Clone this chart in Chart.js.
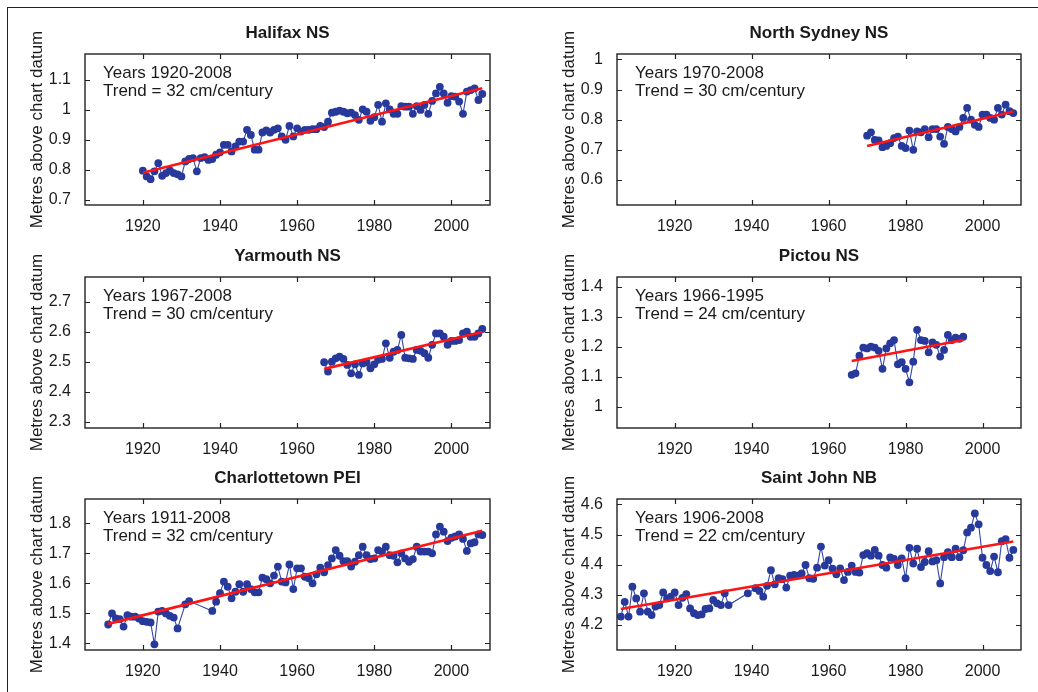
<!DOCTYPE html>
<html><head><meta charset="utf-8">
<script src="https://cdn.jsdelivr.net/npm/chart.js@4/dist/chart.umd.min.js"></script>
<style>
html,body{margin:0;padding:0;background:#fff;}
body{width:1038px;height:692px;position:relative;overflow:hidden;}
#frame{position:absolute;left:7px;top:7px;width:1100px;height:800px;border-left:1.5px solid #222;border-top:1.5px solid #222;}
canvas{position:absolute;}
</style></head><body><div id="frame"></div>
<script>
// ---------------- DATA ----------------
const xTickYears = [1920, 1940, 1960, 1980, 2000];

const halifaxYears = [1920,1921,1922,1923,1924,1925,1926,1927,1928,1929,1930,1931,1932,1933,1934,1935,1936,1937,1938,1939,1940,1941,1942,1943,1944,1945,1946,1947,1948,1949,1950,1951,1952,1953,1954,1955,1956,1957,1958,1959,1960,1961,1962,1963,1964,1965,1966,1967,1968,1969,1970,1971,1972,1973,1974,1975,1976,1977,1978,1979,1980,1981,1982,1983,1984,1985,1986,1987,1988,1989,1990,1991,1992,1993,1994,1995,1996,1997,1998,1999,2000,2001,2002,2003,2004,2005,2006,2007,2008];
const halifaxLevels = [0.797,0.778,0.769,0.795,0.822,0.780,0.789,0.798,0.789,0.785,
 0.778,0.828,0.836,0.839,0.795,0.839,0.842,0.833,0.836,0.850,
 0.858,0.883,0.883,0.861,0.878,0.894,0.894,0.933,0.916,0.867,
 0.867,0.924,0.931,0.924,0.933,0.938,0.911,0.900,0.946,0.911,
 0.938,0.927,0.933,0.933,0.935,0.935,0.946,0.942,0.960,0.990,
 0.993,0.997,0.993,0.988,0.990,0.982,0.966,1.001,0.993,0.963,
 0.975,1.016,0.960,1.021,1.001,0.986,0.986,1.012,1.010,1.010,
 0.986,1.012,0.999,1.016,0.986,1.029,1.054,1.076,1.054,1.023,
 1.045,1.043,1.027,0.986,1.060,1.065,1.071,1.032,1.052];
const halifaxTrendYears = [1920, 2008];
const halifaxTrend = [0.790, 1.071];
const halifaxYRange = [0.683, 1.185];
const halifaxYTicks = [0.7, 0.8, 0.9, 1.0, 1.1];

const sydneyYears = [1970,1971,1972,1973,1974,1975,1976,1977,1978,1979,1980,1981,1982,1983,1984,1985,1986,1987,1988,1989,1990,1991,1992,1993,1994,1995,1996,1997,1998,1999,2000,2001,2002,2003,2004,2005,2006,2007,2008];
const sydneyLevels = [0.747,0.758,0.733,0.731,0.709,0.713,0.722,0.739,0.744,0.713,
 0.706,0.764,0.700,0.761,0.758,0.769,0.742,0.769,0.769,0.744,
 0.720,0.776,0.769,0.761,0.776,0.806,0.839,0.800,0.783,0.776,
 0.817,0.817,0.806,0.800,0.839,0.817,0.850,0.828,0.822];
const sydneyTrendYears = [1970, 2008];
const sydneyTrend = [0.713, 0.827];
const sydneyYRange = [0.517, 1.018];
const sydneyYTicks = [0.6, 0.7, 0.8, 0.9, 1.0];

const yarmouthYears = [1967,1968,1969,1970,1971,1972,1973,1974,1975,1976,1977,1978,1979,1980,1981,1982,1983,1984,1985,1986,1987,1988,1989,1990,1991,1992,1993,1994,1995,1996,1997,1998,1999,2000,2001,2002,2003,2004,2005,2006,2007,2008];
const yarmouthLevels = [2.498,2.467,2.500,2.511,2.517,2.509,2.489,2.461,2.491,2.456,
 2.494,2.498,2.478,2.491,2.506,2.509,2.561,2.513,2.533,2.539,
 2.589,2.513,2.511,2.509,2.539,2.536,2.528,2.513,2.556,2.594,
 2.594,2.583,2.556,2.569,2.569,2.572,2.594,2.600,2.583,2.583,
 2.594,2.609];
const yarmouthTrendYears = [1967, 2008];
const yarmouthTrend = [2.476, 2.599];
const yarmouthYRange = [2.279, 2.782];
const yarmouthYTicks = [2.3, 2.4, 2.5, 2.6, 2.7];

const pictouYears = [1966,1967,1968,1969,1970,1971,1972,1973,1974,1975,1976,1977,1978,1979,1980,1981,1982,1983,1984,1985,1986,1987,1988,1989,1990,1991,1992,1993,1994,1995];
const pictouLevels = [1.106,1.111,1.170,1.197,1.194,1.200,1.197,1.186,1.126,1.194,
 1.211,1.222,1.141,1.148,1.126,1.081,1.150,1.256,1.222,1.219,
 1.181,1.214,1.206,1.167,1.189,1.239,1.222,1.230,1.226,1.233];
const pictouTrendYears = [1966, 1995];
const pictouTrend = [1.152, 1.222];
const pictouYRange = [0.929, 1.432];
const pictouYTicks = [1.0, 1.1, 1.2, 1.3, 1.4];

const charlottetownYears = [1911,1912,1913,1914,1915,1916,1917,1918,1919,1920,1921,1922,1923,1924,1925,1926,1927,1928,1929,1931,1932,1938,1939,1940,1941,1942,1943,1944,1945,1946,1947,1948,1949,1950,1951,1952,1953,1954,1955,1956,1957,1958,1959,1960,1961,1962,1963,1964,1965,1966,1967,1968,1969,1970,1971,1972,1973,1974,1975,1976,1977,1978,1979,1980,1981,1982,1983,1984,1985,1986,1987,1988,1989,1990,1991,1992,1993,1994,1995,1996,1997,1998,1999,2000,2001,2002,2003,2004,2005,2006,2007,2008];
const charlottetownLevels = [1.463,1.500,1.483,1.481,1.456,1.494,1.489,1.489,1.483,1.474,
 1.472,1.470,1.397,1.506,1.508,1.500,1.492,1.486,1.450,1.530,
 1.541,1.508,1.539,1.567,1.606,1.589,1.550,1.572,1.597,1.572,
 1.597,1.581,1.570,1.570,1.619,1.614,1.600,1.626,1.656,1.606,
 1.603,1.663,1.581,1.650,1.650,1.622,1.617,1.600,1.630,1.652,
 1.637,1.661,1.683,1.711,1.692,1.674,1.674,1.656,1.672,1.694,
 1.722,1.694,1.681,1.683,1.711,1.706,1.722,1.694,1.692,1.670,
 1.700,1.683,1.672,1.681,1.722,1.706,1.706,1.706,1.700,1.763,
 1.789,1.772,1.741,1.752,1.756,1.763,1.748,1.708,1.733,1.737,
 1.763,1.761];
const charlottetownTrendYears = [1911, 2008];
const charlottetownTrend = [1.465, 1.775];
const charlottetownYRange = [1.378, 1.881];
const charlottetownYTicks = [1.4, 1.5, 1.6, 1.7, 1.8];

const saintJohnYears = [1906,1907,1908,1909,1910,1911,1912,1913,1914,1915,1916,1917,1918,1919,1920,1921,1922,1923,1924,1925,1926,1927,1928,1929,1930,1931,1932,1933,1934,1939,1941,1942,1943,1944,1945,1946,1947,1948,1949,1950,1951,1952,1953,1954,1955,1956,1957,1958,1959,1960,1961,1962,1963,1964,1965,1966,1967,1968,1969,1970,1971,1972,1973,1974,1975,1976,1977,1978,1979,1980,1981,1982,1983,1984,1985,1986,1987,1988,1989,1990,1991,1992,1993,1994,1995,1996,1997,1998,1999,2000,2001,2002,2003,2004,2005,2006,2007,2008];
const saintJohnLevels = [4.228,4.277,4.228,4.327,4.288,4.244,4.305,4.244,4.233,4.261,
 4.266,4.308,4.288,4.294,4.308,4.266,4.290,4.302,4.255,4.239,
 4.233,4.235,4.253,4.255,4.283,4.272,4.266,4.305,4.266,4.305,
 4.322,4.313,4.294,4.330,4.382,4.335,4.355,4.352,4.324,4.364,
 4.366,4.364,4.371,4.399,4.355,4.353,4.390,4.460,4.397,4.415,
 4.387,4.368,4.388,4.349,4.376,4.397,4.376,4.374,4.432,4.438,
 4.430,4.449,4.430,4.399,4.390,4.424,4.419,4.399,4.421,4.355,
 4.456,4.404,4.453,4.392,4.409,4.445,4.411,4.415,4.338,4.425,
 4.442,4.425,4.453,4.425,4.448,4.507,4.523,4.570,4.534,4.423,
 4.399,4.379,4.427,4.375,4.478,4.485,4.423,4.449];
const saintJohnTrendYears = [1906, 2008];
const saintJohnTrend = [4.253, 4.477];
const saintJohnYRange = [4.117, 4.618];
const saintJohnYTicks = [4.2, 4.3, 4.4, 4.5, 4.6];

// ---------------- LAYOUT / STYLE ----------------
const FONT = '"Liberation Sans", Arial, Helvetica, sans-serif';
const TEXT = '#1a1a1a';
const DOT = '#27399b';
const LINE = '#3346aa';
const RED = '#ff1414';
Chart.defaults.font.family = FONT;
Chart.defaults.color = TEXT;

const PAD_L = 80, PAD_T = 50, PAD_R = 12, PAD_B = 30;

const panels = [
  {title:'Halifax NS', left:85, top:54, w:405, h:151, yrs:halifaxYears, vals:halifaxLevels, tY:halifaxTrendYears, tV:halifaxTrend, yr:halifaxYRange, yt:halifaxYTicks, note:['Years 1920-2008','Trend = 32 cm/century']},
  {title:'North Sydney NS', left:617, top:54, w:404, h:151, yrs:sydneyYears, vals:sydneyLevels, tY:sydneyTrendYears, tV:sydneyTrend, yr:sydneyYRange, yt:sydneyYTicks, note:['Years 1970-2008','Trend = 30 cm/century']},
  {title:'Yarmouth NS', left:85, top:277, w:405, h:151, yrs:yarmouthYears, vals:yarmouthLevels, tY:yarmouthTrendYears, tV:yarmouthTrend, yr:yarmouthYRange, yt:yarmouthYTicks, note:['Years 1967-2008','Trend = 30 cm/century']},
  {title:'Pictou NS', left:617, top:277, w:404, h:151, yrs:pictouYears, vals:pictouLevels, tY:pictouTrendYears, tV:pictouTrend, yr:pictouYRange, yt:pictouYTicks, note:['Years 1966-1995','Trend = 24 cm/century']},
  {title:'Charlottetown PEI', left:85, top:499, w:405, h:151, yrs:charlottetownYears, vals:charlottetownLevels, tY:charlottetownTrendYears, tV:charlottetownTrend, yr:charlottetownYRange, yt:charlottetownYTicks, note:['Years 1911-2008','Trend = 32 cm/century']},
  {title:'Saint John NB', left:617, top:499, w:404, h:151, yrs:saintJohnYears, vals:saintJohnLevels, tY:saintJohnTrendYears, tV:saintJohnTrend, yr:saintJohnYRange, yt:saintJohnYTicks, note:['Years 1906-2008','Trend = 22 cm/century']}
];

const framePlugin = {
  id: 'panelFrame',
  beforeDatasetsDraw(chart, args, opts) {
    const {ctx, chartArea: a} = chart;
    ctx.save();
    ctx.fillStyle = TEXT;
    ctx.font = '17px ' + FONT;
    ctx.textAlign = 'left';
    ctx.textBaseline = 'middle';
    ctx.fillText(opts.note[0], a.left + 18, a.top + 19);
    ctx.fillText(opts.note[1], a.left + 18, a.top + 37.5);
    ctx.restore();
  },
  afterDraw(chart, args, opts) {
    const {ctx, chartArea: a, scales} = chart;
    ctx.save();
    ctx.strokeStyle = '#222';
    ctx.lineWidth = 1.4;
    ctx.strokeRect(a.left, a.top, a.right - a.left, a.bottom - a.top);
    ctx.lineWidth = 1.2;
    ctx.beginPath();
    const T = 5;
    scales.x.ticks.forEach(t => {
      const px = Math.round(scales.x.getPixelForValue(t.value)) + 0.5;
      ctx.moveTo(px, a.bottom); ctx.lineTo(px, a.bottom - T);
      ctx.moveTo(px, a.top); ctx.lineTo(px, a.top + T);
    });
    scales.y.ticks.forEach(t => {
      const py = Math.round(scales.y.getPixelForValue(t.value)) + 0.5;
      ctx.moveTo(a.left, py); ctx.lineTo(a.left + T, py);
      ctx.moveTo(a.right, py); ctx.lineTo(a.right - T, py);
    });
    ctx.stroke();
    ctx.fillStyle = TEXT;
    ctx.font = 'bold 17px ' + FONT;
    ctx.textAlign = 'center';
    ctx.textBaseline = 'middle';
    ctx.fillText(opts.title, (a.left + a.right) / 2, a.top - 21);
    ctx.restore();
  }
};

panels.forEach(p => {
  const cv = document.createElement('canvas');
  const W = p.w + PAD_L + PAD_R, H = p.h + PAD_T + PAD_B;
  cv.width = W; cv.height = H;
  cv.style.left = (p.left - PAD_L) + 'px';
  cv.style.top = (p.top - PAD_T) + 'px';
  cv.style.width = W + 'px'; cv.style.height = H + 'px';
  document.body.appendChild(cv);
  const pts = p.yrs.map((y, i) => ({x: y, y: p.vals[i]}));
  const trend = p.tY.map((y, i) => ({x: y, y: p.tV[i]}));
  const yt = p.yt;
  new Chart(cv, {
    type: 'line',
    data: {
      datasets: [
        {data: trend, borderColor: RED, borderWidth: 2.6, pointRadius: 0, order: 0, tension: 0},
        {data: pts, borderColor: LINE, borderWidth: 1.1, pointRadius: 3.9, pointBackgroundColor: DOT, pointBorderWidth: 0, pointHoverRadius: 3.9, order: 1, tension: 0}
      ]
    },
    options: {
      responsive: false,
      animation: false,
      devicePixelRatio: 1,
      events: [],
      layout: {padding: {left: 0, top: PAD_T, right: PAD_R, bottom: 0}},
      plugins: {legend: {display: false}, tooltip: {enabled: false}, panelFrame: {title: p.title, note: p.note}},
      scales: {
        x: {
          type: 'linear', min: 1905, max: 2010,
          grid: {display: false}, border: {display: false},
          afterBuildTicks: s => { s.ticks = xTickYears.map(v => ({value: v})); },
          afterFit: s => { s.height = PAD_B; },
          ticks: {font: {size: 16}, padding: 4, maxRotation: 0, autoSkip: false, callback: v => String(v), color: TEXT}
        },
        y: {
          type: 'linear', min: p.yr[0], max: p.yr[1],
          grid: {display: false}, border: {display: false},
          afterBuildTicks: s => { s.ticks = yt.map(v => ({value: v})); },
          afterFit: s => { s.width = PAD_L; },
          ticks: {font: {size: 16}, padding: 6, autoSkip: false, callback: v => String(+Number(v).toFixed(1)), color: TEXT},
          title: {display: true, text: 'Metres above chart datum', font: {size: 17}, color: TEXT, padding: {top: 22, bottom: 0}}
        }
      }
    },
    plugins: [framePlugin]
  });
});
</script></body></html>
